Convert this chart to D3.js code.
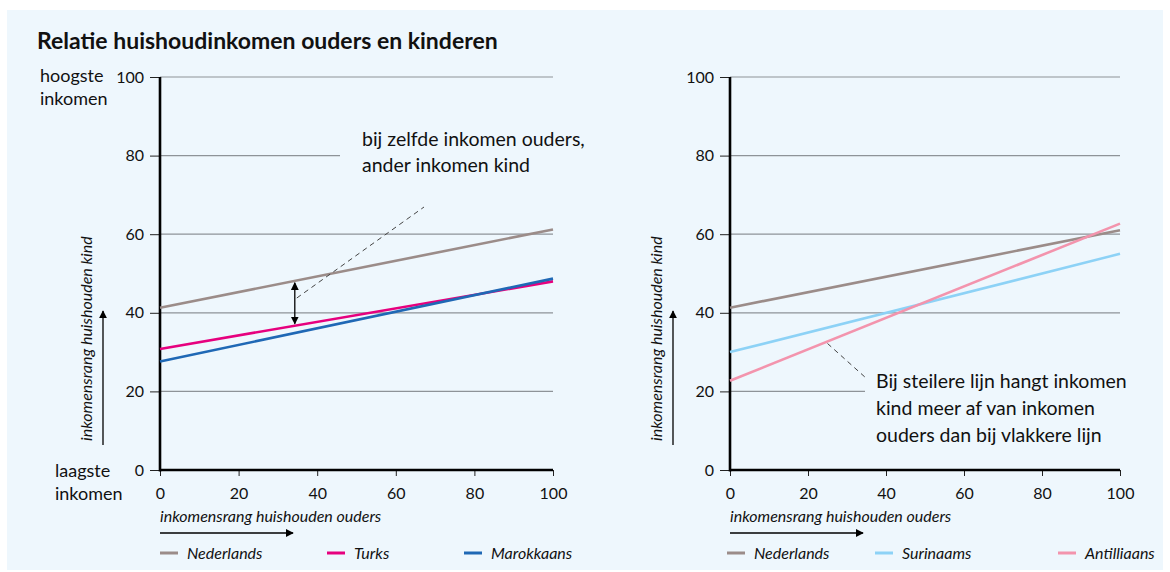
<!DOCTYPE html>
<html>
<head>
<meta charset="utf-8">
<script src="https://cdn.jsdelivr.net/npm/d3@7"></script>
<style>
  body { margin: 0; background: #fff; }
  svg { display: block; font-family: Lato, "Open Sans", sans-serif; }
</style>
</head>
<body>
<div id="chart"></div>
<script>
// data: value of the fitted line at parent rank 0 and 100
var xTicks = [0, 20, 40, 60, 80, 100];
var yTicks = [0, 20, 40, 60, 80, 100];
var rankParents = [0, 100];

var leftSeries = ["Nederlands", "Turks", "Marokkaans"];
var leftValues = [[41.3, 61.2], [30.8, 48.0], [27.6, 48.7]];
var leftColors = ["#9b8c89", "#e6007e", "#1f68b5"];

var rightSeries = ["Nederlands", "Surinaams", "Antilliaans"];
var rightValues = [[41.3, 61.0], [30.0, 55.0], [22.7, 62.7]];
var rightColors = ["#9b8c89", "#8dd2f6", "#f394ad"];

var width = 1170, height = 572;

var svg = d3.select("#chart").append("svg")
  .attr("width", width)
  .attr("height", height);

// light blue panel behind everything
svg.append("rect")
  .attr("x", 7).attr("y", 10)
  .attr("width", 1156).attr("height", 560)
  .attr("fill", "#eef7fd");

svg.append("text")
  .attr("x", 37).attr("y", 49)
  .text("Relatie huishoudinkomen ouders en kinderen")
  .attr("font-size", "23px")
  .attr("font-weight", "bold")
  .attr("fill", "#111");

// arrow head marker
svg.append("defs").append("marker")
  .attr("id", "head")
  .attr("viewBox", "0 0 10 10")
  .attr("refX", 9).attr("refY", 5)
  .attr("markerWidth", 8).attr("markerHeight", 8)
  .attr("markerUnits", "userSpaceOnUse")
  .attr("orient", "auto-start-reverse")
  .append("path")
  .attr("d", "M0,0 L10,5 L0,10 Z")
  .attr("fill", "#000");

function drawPanel(x0, x1, series, values, colors, gridGaps, legendX) {
  var x = d3.scaleLinear().domain([0, 100]).range([x0, x1]);
  var y = d3.scaleLinear().domain([0, 100]).range([470, 77]);
  var g = svg.append("g");

  // gridlines, some with a gap for the annotation text
  yTicks.forEach(function(t) {
    if (t == 0) return;
    var end = gridGaps[t] != undefined ? gridGaps[t] : x1;
    g.append("line")
      .attr("x1", x0).attr("x2", end)
      .attr("y1", y(t)).attr("y2", y(t))
      .attr("stroke", "#8e9398")
      .attr("stroke-width", 1.2);
  });

  var yAxis = g.append("g")
    .attr("transform", "translate(" + x0 + ",0)")
    .call(d3.axisLeft(y).tickValues(yTicks).tickSize(10).tickPadding(6));
  yAxis.select(".domain").remove();
  yAxis.selectAll("line").attr("stroke", "#222").attr("stroke-width", 1);
  yAxis.selectAll("text")
    .attr("font-size", "16px")
    .attr("fill", "#111")
    .attr("font-family", "Lato, sans-serif");

  var xAxis = g.append("g")
    .attr("transform", "translate(0,470)")
    .call(d3.axisBottom(x).tickValues(xTicks).tickSize(6).tickPadding(12));
  xAxis.select(".domain").remove();
  xAxis.selectAll("line").attr("stroke", "#222").attr("stroke-width", 1);
  xAxis.selectAll("text")
    .attr("font-size", "16px")
    .attr("fill", "#111")
    .attr("font-family", "Lato, sans-serif");

  // thick axis lines
  g.append("line")
    .attr("x1", x0).attr("x2", x0)
    .attr("y1", y(100)).attr("y2", y(0) + 1.5)
    .attr("stroke", "#000").attr("stroke-width", 2.6);
  g.append("line")
    .attr("x1", x0).attr("x2", x1)
    .attr("y1", y(0)).attr("y2", y(0))
    .attr("stroke", "#000").attr("stroke-width", 2.6);

  var line = d3.line()
    .x(function(d, i) { return x(rankParents[i]); })
    .y(function(d) { return y(d); });

  values.forEach(function(v, i) {
    g.append("path")
      .attr("d", line(v))
      .attr("fill", "none")
      .attr("stroke", colors[i])
      .attr("stroke-width", 2.6);
  });

  // axis titles with arrows
  var yLabelX = x0 - 68;
  g.append("text")
    .attr("transform", "translate(" + yLabelX + ",441) rotate(-90)")
    .text("inkomensrang huishouden kind")
    .attr("font-size", "16px")
    .attr("font-style", "italic")
    .attr("fill", "#111");
  g.append("line")
    .attr("x1", x0 - 57).attr("x2", x0 - 57)
    .attr("y1", 445).attr("y2", 311)
    .attr("stroke", "#000").attr("stroke-width", 1.3)
    .attr("marker-end", "url(#head)");

  g.append("text")
    .attr("x", x0).attr("y", 522)
    .text("inkomensrang huishouden ouders")
    .attr("font-size", "16px")
    .attr("font-style", "italic")
    .attr("fill", "#111");
  g.append("line")
    .attr("x1", x0).attr("x2", x0 + 133)
    .attr("y1", 533).attr("y2", 533)
    .attr("stroke", "#000").attr("stroke-width", 1.3)
    .attr("marker-end", "url(#head)");

  // legend
  series.forEach(function(s, i) {
    g.append("line")
      .attr("x1", legendX[i]).attr("x2", legendX[i] + 18)
      .attr("y1", 553).attr("y2", 553)
      .attr("stroke", colors[i]).attr("stroke-width", 3);
    g.append("text")
      .attr("x", legendX[i] + 27).attr("y", 559)
      .text(s)
      .attr("font-size", "16px")
      .attr("font-style", "italic")
      .attr("fill", "#111");
  });

  return { x: x, y: y, g: g };
}

var left = drawPanel(160, 553, leftSeries, leftValues, leftColors, { 80: 340 }, [160, 327, 464]);
var right = drawPanel(730, 1120, rightSeries, rightValues, rightColors, { 20: 865 }, [727, 875, 1058]);

// left side labels for top and bottom of the scale
[["hoogste", 40, 82], ["inkomen", 40, 105], ["laagste", 55, 477], ["inkomen", 55, 500]].forEach(function(d) {
  svg.append("text")
    .attr("x", d[1]).attr("y", d[2])
    .text(d[0])
    .attr("font-size", "18px")
    .attr("fill", "#111");
});

// annotation left panel
function valueAt(v, r) { return v[0] + (v[1] - v[0]) * r / 100; }

var lx = left.x, ly = left.y;
var arrowRank = 34.3;
left.g.append("line")
  .attr("x1", lx(arrowRank)).attr("x2", lx(arrowRank))
  .attr("y1", ly(valueAt(leftValues[0], arrowRank)) + 2)
  .attr("y2", ly(valueAt(leftValues[1], arrowRank)) - 2)
  .attr("stroke", "#000").attr("stroke-width", 1.3)
  .attr("marker-start", "url(#head)")
  .attr("marker-end", "url(#head)");
left.g.append("line")
  .attr("x1", lx(arrowRank) + 2).attr("y1", 298)
  .attr("x2", 424).attr("y2", 207)
  .attr("stroke", "#444").attr("stroke-width", 1)
  .attr("stroke-dasharray", "5,4");
["bij zelfde inkomen ouders,", "ander inkomen kind"].forEach(function(t, i) {
  left.g.append("text")
    .attr("x", 362).attr("y", 146 + i * 26)
    .text(t)
    .attr("font-size", "19.5px")
    .attr("fill", "#111");
});

// annotation right panel
var rx = right.x, ry = right.y;
var pointRank = 25;
right.g.append("line")
  .attr("x1", rx(pointRank)).attr("y1", ry(valueAt(rightValues[2], pointRank)) + 2)
  .attr("x2", 866).attr("y2", 378)
  .attr("stroke", "#444").attr("stroke-width", 1)
  .attr("stroke-dasharray", "5,4");
["Bij steilere lijn hangt inkomen", "kind meer af van inkomen", "ouders dan bij vlakkere lijn"].forEach(function(t, i) {
  right.g.append("text")
    .attr("x", 876).attr("y", 388 + i * 27)
    .text(t)
    .attr("font-size", "19.5px")
    .attr("fill", "#111");
});
</script>
</body>
</html>
